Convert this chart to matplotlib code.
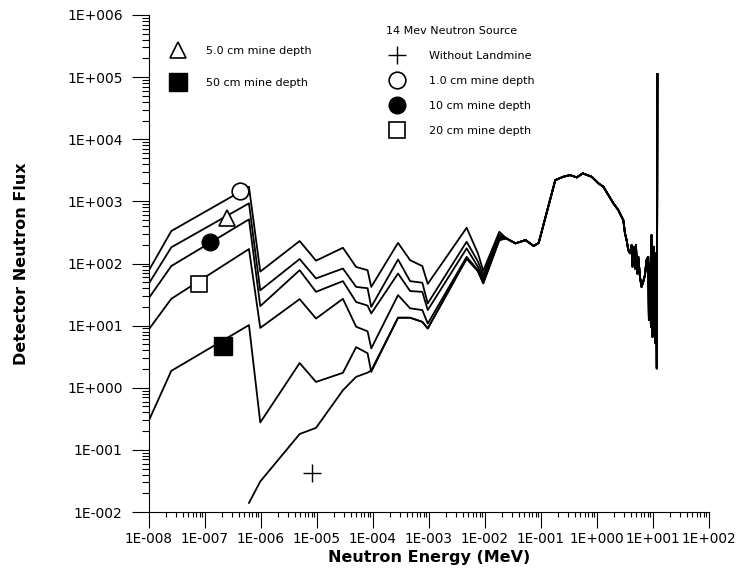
import numpy as np
import matplotlib.pyplot as plt
from matplotlib.ticker import LogLocator, FuncFormatter, NullFormatter

# energy grid (MeV) where the mine-depth curves still differ
energy_low = [1e-8, 2.5e-8, 6.1e-7, 9.7e-7, 4.9e-6, 9.6e-6, 2.9e-5, 5e-5, 8e-5, 9.3e-5,
              2.8e-4, 4.6e-4, 7.6e-4, 9.5e-4, 4.7e-3, 7.5e-3, 9.3e-3, 1.8e-2]

flux_1cm = [78, 333, 1720, 74, 230, 111, 179, 88, 78, 42,
            215, 113, 91, 47, 376, 145, 76, 324]
flux_5cm = [48, 182, 930, 37, 118, 57.5, 83, 42, 40, 20,
            116, 52, 49, 22.8, 224, 107, 65, 290]
flux_10cm = [28, 91, 513, 20.6, 78, 35, 52, 24, 21, 15.7,
             69, 36, 35, 17.8, 175, 88, 57, 270]
flux_20cm = [8.8, 27, 171, 9.2, 26.7, 13, 27, 9.6, 8.1, 4.3,
             31, 19, 17.8, 10.8, 128, 78, 52, 250]
flux_50cm = [0.30, 1.87, 10.2, 0.276, 2.5, 1.24, 1.74, 4.5, 3.6, 1.8,
             13.4, 13.4, 11.5, 9.0, 120, 75, 48, 238]
# without landmine starts later (below 1E-002 before)
flux_none = [0.014, 0.031, 0.18, 0.226, 0.91, 1.5, 1.75, 1.9,
             13.4, 13.4, 11.5, 9.0, 120, 75, 48, 238]

# common part of all curves (high energy, 14 MeV source)
energy_high = [0.024, 0.035, 0.053, 0.074, 0.091, 0.18, 0.25, 0.33, 0.435, 0.557,
               0.805, 1.06, 1.30, 1.60, 1.96, 2.40, 2.75, 2.95, 3.16, 3.38,
               3.62, 3.88, 4.14, 4.31, 4.57, 4.76, 4.96, 5.24, 5.46, 5.85,
               6.24, 6.69, 7.18, 7.66, 8.22, 8.45, 8.81, 9.18, 9.40, 9.80,
               10.2, 10.5, 10.8, 11.1, 11.4, 11.7, 12.0]
flux_high = [254, 211, 238, 191, 215, 2200, 2490, 2650, 2430, 2820,
             2490, 1950, 1720, 1260, 930, 725, 565, 500, 305, 238,
             164, 146, 198, 89, 186, 83, 198, 69, 128, 61,
             42, 51, 65, 113, 128, 12.3, 100, 9.6, 286, 6.6,
             186, 12.3, 146, 5.2, 113, 2.05, 1.12e5]

# symbol positions put on the curves
sym_1cm = (4.3e-7, 1470)
sym_5cm = (2.5e-7, 532)
sym_10cm = (1.25e-7, 223)
sym_20cm = (7.85e-8, 46.5)
sym_50cm = (2.1e-7, 4.68)
sym_none = (8.05e-6, 0.0417)

fig = plt.figure(figsize=(7.37, 5.78), dpi=100)
ax = fig.add_axes([149 / 737, 1 - 512 / 578, 560 / 737, 497 / 578])

for fl in [flux_1cm, flux_5cm, flux_10cm, flux_20cm, flux_50cm]:
    ax.plot(energy_low + energy_high, fl + flux_high, color='black', lw=1.3)
ax.plot(energy_low[2:] + energy_high, flux_none + flux_high, color='black', lw=1.3)

h_tri, = ax.plot(*sym_5cm, marker='^', ms=12, mfc='white', mec='black', mew=1.2, ls='none')
h_fsq, = ax.plot(*sym_50cm, marker='s', ms=13, mfc='black', mec='black', ls='none')
h_plus, = ax.plot(*sym_none, marker='+', ms=13, mec='black', mew=1.0, ls='none')
h_oc, = ax.plot(*sym_1cm, marker='o', ms=12, mfc='white', mec='black', mew=1.2, ls='none')
h_fc, = ax.plot(*sym_10cm, marker='o', ms=12, mfc='black', mec='black', ls='none')
h_osq, = ax.plot(*sym_20cm, marker='s', ms=12, mfc='white', mec='black', mew=1.2, ls='none')

ax.set_xscale('log')
ax.set_yscale('log')
ax.set_xlim(1e-8, 1e2)
ax.set_ylim(1e-2, 1e6)

def sci_label(v, pos):
    e = int(round(np.log10(v)))
    return '1E' + ('+' if e >= 0 else '-') + '%03d' % abs(e)

for axis in [ax.xaxis, ax.yaxis]:
    axis.set_major_locator(LogLocator(base=10, numticks=20))
    axis.set_minor_locator(LogLocator(base=10, subs=np.arange(2, 10), numticks=20))
    axis.set_major_formatter(FuncFormatter(sci_label))
    axis.set_minor_formatter(NullFormatter())

ax.spines['top'].set_visible(False)
ax.spines['right'].set_visible(False)
ax.tick_params(axis='x', which='major', length=11.5, width=0.8, pad=3, labelsize=9.8)
ax.tick_params(axis='x', which='minor', length=3.8, width=0.8)
ax.tick_params(axis='y', which='major', length=12, width=0.8, pad=7, labelsize=10)
ax.tick_params(axis='y', which='minor', length=5, width=0.8)

ax.set_xlabel('Neutron Energy (MeV)', fontsize=11.5, fontweight='bold', labelpad=3)
ax.set_ylabel('Detector Neutron Flux', fontsize=11.5, fontweight='bold', labelpad=27)

leg1 = ax.legend([h_tri, h_fsq], ['5.0 cm mine depth', '50 cm mine depth'],
                 loc='upper left', bbox_to_anchor=(167 / 737, 1 - 46 / 578),
                 bbox_transform=fig.transFigure, frameon=False, fontsize=8,
                 borderpad=0, borderaxespad=0, handlelength=2, handletextpad=1.5,
                 labelspacing=2.0, numpoints=1)
ax.add_artist(leg1)
ax.legend([h_plus, h_oc, h_fc, h_osq],
          ['Without Landmine', '1.0 cm mine depth', '10 cm mine depth', '20 cm mine depth'],
          title='14 Mev Neutron Source', title_fontsize=8, alignment='left',
          loc='upper left', bbox_to_anchor=(386 / 737, 1 - 26 / 578),
          bbox_transform=fig.transFigure, frameon=False, fontsize=8,
          borderpad=0, borderaxespad=0, handlelength=2, handletextpad=1.9,
          labelspacing=1.35, numpoints=1)

fig.savefig('out.png', dpi=100)
